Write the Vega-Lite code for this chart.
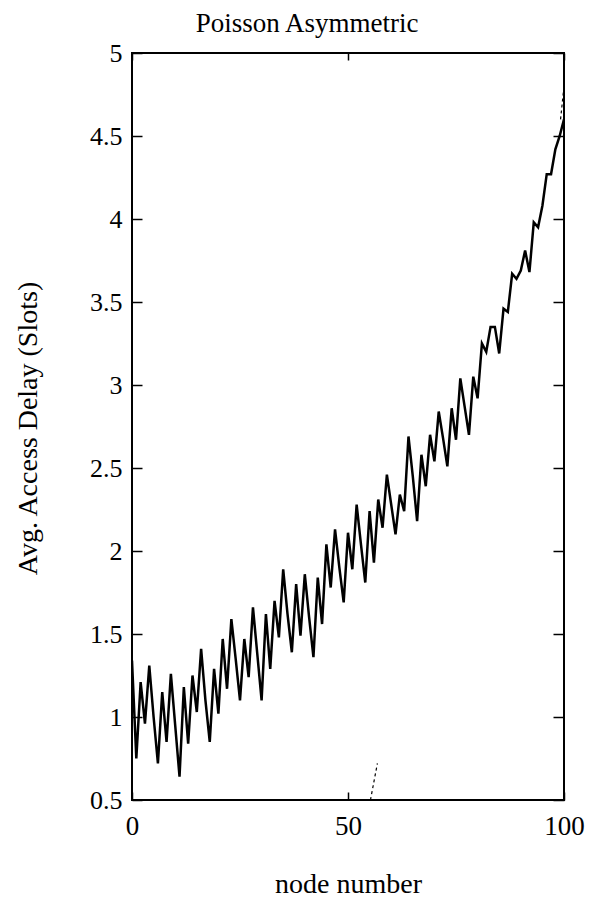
{
  "$schema": "https://vega.github.io/schema/vega-lite/v6.json",
  "width": 432,
  "height": 747,
  "autosize": "none",
  "padding": {"left": 132, "top": 53, "right": 30, "bottom": 107},
  "background": "white",
  "config": {"view": {"stroke": "black", "strokeWidth": 2}, "font": "Liberation Serif"},
  "title": {"text": "Poisson Asymmetric", "font": "Liberation Serif", "fontSize": 27, "fontWeight": "normal", "color": "black", "anchor": "middle", "frame": "group", "dx": -41, "offset": -19, "baseline": "alphabetic"},
  "datasets": {
    "main": [
      {"node": 0, "delay": 1.34}, {"node": 1, "delay": 0.75}, {"node": 2, "delay": 1.21}, {"node": 3, "delay": 0.96}, {"node": 4, "delay": 1.31},
      {"node": 5, "delay": 1.0}, {"node": 6, "delay": 0.72}, {"node": 7, "delay": 1.15}, {"node": 8, "delay": 0.85}, {"node": 9, "delay": 1.26},
      {"node": 10, "delay": 0.95}, {"node": 11, "delay": 0.64}, {"node": 12, "delay": 1.18}, {"node": 13, "delay": 0.84}, {"node": 14, "delay": 1.25},
      {"node": 15, "delay": 1.03}, {"node": 16, "delay": 1.41}, {"node": 17, "delay": 1.1}, {"node": 18, "delay": 0.85}, {"node": 19, "delay": 1.29},
      {"node": 20, "delay": 1.02}, {"node": 21, "delay": 1.47}, {"node": 22, "delay": 1.17}, {"node": 23, "delay": 1.59}, {"node": 24, "delay": 1.35},
      {"node": 25, "delay": 1.1}, {"node": 26, "delay": 1.47}, {"node": 27, "delay": 1.24}, {"node": 28, "delay": 1.66}, {"node": 29, "delay": 1.38},
      {"node": 30, "delay": 1.1}, {"node": 31, "delay": 1.62}, {"node": 32, "delay": 1.29}, {"node": 33, "delay": 1.7}, {"node": 34, "delay": 1.48},
      {"node": 35, "delay": 1.89}, {"node": 36, "delay": 1.62}, {"node": 37, "delay": 1.39}, {"node": 38, "delay": 1.8}, {"node": 39, "delay": 1.49},
      {"node": 40, "delay": 1.86}, {"node": 41, "delay": 1.6}, {"node": 42, "delay": 1.36}, {"node": 43, "delay": 1.84}, {"node": 44, "delay": 1.56},
      {"node": 45, "delay": 2.04}, {"node": 46, "delay": 1.78}, {"node": 47, "delay": 2.13}, {"node": 48, "delay": 1.9}, {"node": 49, "delay": 1.69},
      {"node": 50, "delay": 2.11}, {"node": 51, "delay": 1.89}, {"node": 52, "delay": 2.28}, {"node": 53, "delay": 2.04}, {"node": 54, "delay": 1.81},
      {"node": 55, "delay": 2.24}, {"node": 56, "delay": 1.93}, {"node": 57, "delay": 2.31}, {"node": 58, "delay": 2.14}, {"node": 59, "delay": 2.46},
      {"node": 60, "delay": 2.28}, {"node": 61, "delay": 2.1}, {"node": 62, "delay": 2.34}, {"node": 63, "delay": 2.24}, {"node": 64, "delay": 2.69},
      {"node": 65, "delay": 2.45}, {"node": 66, "delay": 2.18}, {"node": 67, "delay": 2.58}, {"node": 68, "delay": 2.39}, {"node": 69, "delay": 2.7},
      {"node": 70, "delay": 2.54}, {"node": 71, "delay": 2.84}, {"node": 72, "delay": 2.68}, {"node": 73, "delay": 2.51}, {"node": 74, "delay": 2.86},
      {"node": 75, "delay": 2.67}, {"node": 76, "delay": 3.04}, {"node": 77, "delay": 2.87}, {"node": 78, "delay": 2.7}, {"node": 79, "delay": 3.05},
      {"node": 80, "delay": 2.92}, {"node": 81, "delay": 3.25}, {"node": 82, "delay": 3.2}, {"node": 83, "delay": 3.35}, {"node": 84, "delay": 3.35},
      {"node": 85, "delay": 3.19}, {"node": 86, "delay": 3.46}, {"node": 87, "delay": 3.44}, {"node": 88, "delay": 3.67}, {"node": 89, "delay": 3.64},
      {"node": 90, "delay": 3.69}, {"node": 91, "delay": 3.81}, {"node": 92, "delay": 3.68}, {"node": 93, "delay": 3.98}, {"node": 94, "delay": 3.95},
      {"node": 95, "delay": 4.08}, {"node": 96, "delay": 4.27}, {"node": 97, "delay": 4.27}, {"node": 98, "delay": 4.42}, {"node": 99, "delay": 4.5},
      {"node": 100, "delay": 4.6}
    ],
    "dotted": [
      {"seg": "a", "node": 55.2, "delay": 0.5}, {"seg": "a", "node": 56.8, "delay": 0.72},
      {"seg": "b", "node": 99.2, "delay": 4.6}, {"seg": "b", "node": 100, "delay": 4.8}
    ]
  },
  "layer": [
    {
      "data": {"name": "main"},
      "mark": {"type": "line", "color": "black", "strokeWidth": 2.5, "clip": true},
      "encoding": {
        "x": {
          "field": "node", "type": "quantitative",
          "scale": {"domain": [0, 100], "nice": false, "zero": false},
          "axis": {
            "orient": "bottom", "values": [0, 50, 100], "format": "d", "title": "node number",
            "grid": false, "domain": false, "tickSize": -8, "tickColor": "black", "tickWidth": 1.5,
            "labelPadding": 21, "labelFontSize": 27, "labelFont": "Liberation Serif", "labelColor": "black",
            "labelBaseline": "top", "labelFlush": false, "labelOverlap": false,
            "titleFontSize": 28, "titleFont": "Liberation Serif", "titleFontWeight": "normal", "titleColor": "black",
            "titleBaseline": "alphabetic", "titleY": 92
          }
        },
        "y": {
          "field": "delay", "type": "quantitative",
          "scale": {"domain": [0.5, 5], "nice": false, "zero": false},
          "axis": {
            "orient": "left", "values": [0.5, 1, 1.5, 2, 2.5, 3, 3.5, 4, 4.5, 5], "format": "~g",
            "title": "Avg. Access Delay (Slots)",
            "grid": false, "domain": false, "tickSize": -10, "tickColor": "black", "tickWidth": 1.5,
            "labelPadding": 20, "labelFontSize": 26, "labelFont": "Liberation Serif", "labelColor": "black",
            "labelFlush": false, "labelOverlap": false,
            "titleFontSize": 28, "titleFont": "Liberation Serif", "titleFontWeight": "normal", "titleColor": "black",
            "titleBaseline": "alphabetic", "titleAngle": -90, "titleX": -96, "titleY": 375, "titleAlign": "center"
          }
        }
      }
    },
    {
      "data": {"name": "dotted"},
      "mark": {"type": "line", "color": "black", "strokeWidth": 1.2, "strokeDash": [3, 3], "clip": true},
      "encoding": {
        "x": {
          "field": "node", "type": "quantitative",
          "axis": {"orient": "top", "values": [0, 50, 100], "labels": false, "title": null, "grid": false, "domain": false, "tickSize": -7, "tickColor": "black", "tickWidth": 1.5}
        },
        "y": {
          "field": "delay", "type": "quantitative",
          "axis": {"orient": "right", "values": [0.5, 1, 1.5, 2, 2.5, 3, 3.5, 4, 4.5, 5], "labels": false, "title": null, "grid": false, "domain": false, "tickSize": -11, "tickColor": "black", "tickWidth": 1.5}
        },
        "detail": {"field": "seg"}
      }
    }
  ],
  "resolve": {"axis": {"x": "independent", "y": "independent"}}
}
